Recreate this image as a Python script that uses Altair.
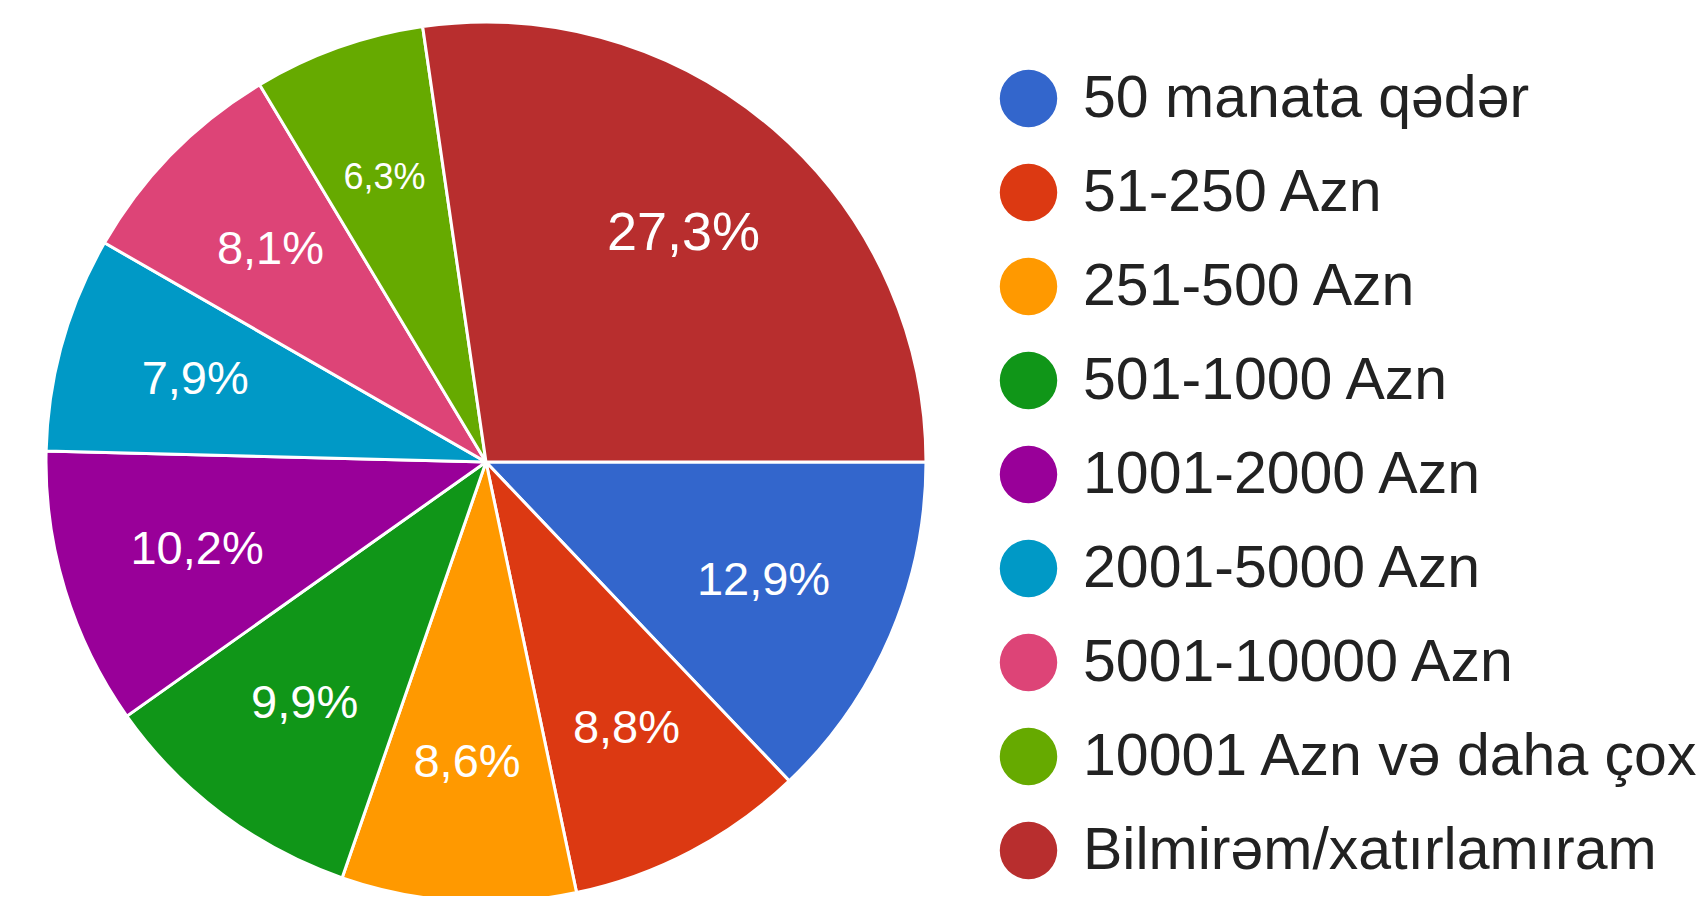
import altair as alt
import pandas as pd

categories = [
    "50 manata qədər",
    "51-250 Azn",
    "251-500 Azn",
    "501-1000 Azn",
    "1001-2000 Azn",
    "2001-5000 Azn",
    "5001-10000 Azn",
    "10001 Azn və daha çox",
    "Bilmirəm/xatırlamıram",
]
values = [12.9, 8.8, 8.6, 9.9, 10.2, 7.9, 8.1, 6.3, 27.3]
colors = ["#3366cc", "#dc3912", "#ff9900", "#109618", "#990099",
          "#0099c6", "#dd4477", "#66aa00", "#b82e2e"]

df = pd.DataFrame({"category": categories, "value": values, "idx": list(range(len(categories)))})

FONT = "Liberation Sans"
PI = 3.141592653589793
CX, CY, R = 478, 454, 440

base = alt.Chart(df).encode(
    theta=alt.Theta("value:Q", stack=True, scale=alt.Scale(range=[PI / 2, PI / 2 + 2 * PI])),
    order=alt.Order("idx:Q"),
)

arcs = base.mark_arc(stroke="white", strokeWidth=3).encode(
    color=alt.Color(
        "category:N",
        scale=alt.Scale(domain=categories, range=colors),
        sort=categories,
        legend=alt.Legend(
            title=None,
            orient="none",
            legendX=991,
            legendY=61,
            symbolType="circle",
            symbolSize=3300,
            symbolStrokeWidth=0,
            labelFontSize=59,
            labelFont=FONT,
            labelColor="#222222",
            labelOffset=25,
            labelLimit=700,
            rowPadding=34,
        ),
    ),
    x=alt.value(CX),
    y=alt.value(CY),
    radius=alt.value(R),
)

labels = base.mark_text(color="white", font=FONT).transform_calculate(
    label="replace(format(datum.value, '.1f'), '.', ',') + '%'"
).encode(
    text="label:N",
    x=alt.value(CX),
    y=alt.value(CY),
    radius=alt.value(302),
    size=alt.value(47, condition=[
        {"test": "datum.value < 7", "value": 36},
        {"test": "datum.value > 20", "value": 54},
    ]),
)

chart = alt.layer(arcs, labels).properties(
    width=1692,
    height=888,
    padding=0,
    autosize=alt.AutoSizeParams(type="none"),
).configure_view(stroke=None)

chart.save("out.html", embed_options={"renderer": "svg", "actions": False})
